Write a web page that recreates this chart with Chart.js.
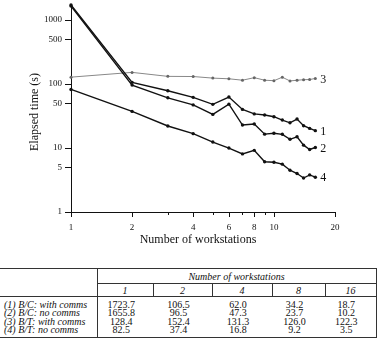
<!DOCTYPE html>
<html>
<head>
<meta charset="utf-8">
<script src="https://cdn.jsdelivr.net/npm/chart.js@4/dist/chart.umd.min.js"></script>
<style>
  html, body { margin: 0; padding: 0; background: #fff; }
  body { width: 380px; height: 345px; position: relative; overflow: hidden; font-family: "Liberation Serif", serif; }
  #wrap { position: absolute; left: 0; top: 0; width: 380px; height: 255px; }
  #tbl { position: absolute; left: 0; top: 268px; width: 376px; border-collapse: collapse; table-layout: fixed;
         font-size: 10px; color: #111; border-top: 1px solid #333; border-bottom: 1px solid #333; }
  #tbl td { padding: 0; text-align: center; white-space: nowrap; overflow: visible; }
  #tbl td.lab { text-align: left; padding-left: 4px; font-style: italic; border-right: 1px solid #333; }
  #tbl td.last { border-right: 1px solid #333; }
  #tbl tr.h1 td { height: 14px; }
  #tbl tr.h1 td.grp { font-style: italic; border-bottom: 1px solid #333; }
  #tbl tr.h2 td { height: 12px; font-style: italic; border-bottom: 1px solid #333; border-right: 1px solid #333; }
  #tbl tr.row td { height: 8.3px; line-height: 8.3px; }
  #tbl tr.row td.num { padding-right: 8px; }
  #tbl tr.first td { padding-top: 4px; }
  #tbl tr.end td { padding-bottom: 3px; }
</style>
</head>
<body>
<div id="wrap"><canvas id="chart"></canvas></div>
<table id="tbl"></table>
<script>
const workstations = [1, 2, 3, 4, 5, 6, 7, 8, 9, 10, 11, 12, 13, 14, 15, 16];

const bcComms   = [1723.7, 106.5, 78.6, 62.0, 48.2, 62.7, 40.2, 34.2, 32.8, 30.9, 27.4, 24.8, 28.4, 22.3, 20.3, 18.7];
const bcNoComms = [1655.8, 96.5, 61.0, 47.3, 33.6, 48.6, 22.9, 23.7, 16.5, 17.0, 16.4, 13.7, 15.0, 11.1, 9.5, 10.2];
const btComms   = [128.4, 152.4, 132.0, 131.3, 124.0, 121.0, 115.0, 126.0, 115.0, 113.0, 128.0, 112.0, 115.0, 117.0, 118.0, 122.3];
const btNoComms = [82.5, 37.4, 22.1, 16.8, 12.4, 10.0, 8.1, 9.2, 6.1, 6.0, 5.6, 4.5, 4.0, 3.4, 3.8, 3.5];

const seriesNames  = ['(1) B/C: with comms', '(2) B/C: no comms', '(3) B/T: with comms', '(4) B/T: no comms'];
const seriesTags   = ['1', '2', '3', '4'];
const seriesValues = [bcComms, bcNoComms, btComms, btNoComms];

const xTicks     = [1, 2, 4, 6, 8, 10, 20];
const xMinor     = [3, 5, 7, 9];
const yTicks     = [1, 5, 10, 50, 100, 500, 1000];
const tableCols  = [1, 2, 4, 8, 16];

const serif = '"Liberation Serif", "Times New Roman", serif';
const ink   = '#111';

// small tick marks under the x axis, axis titles and the 1..4 tags at line ends
const decor = {
  id: 'decor',
  afterDraw(chart) {
    const { ctx, chartArea, scales: { x } } = chart;
    const base = chartArea.bottom;
    ctx.save();
    ctx.strokeStyle = ink;
    ctx.lineWidth = 1;
    const tick = (v, len) => {
      const px = Math.round(x.getPixelForValue(v)) + 0.5;
      ctx.beginPath();
      ctx.moveTo(px, base);
      ctx.lineTo(px, base + len);
      ctx.stroke();
    };
    xTicks.forEach(v => tick(v, 5));
    xMinor.forEach(v => tick(v, 3));

    ctx.fillStyle = ink;
    ctx.font = '12px ' + serif;
    ctx.textAlign = 'center';
    ctx.textBaseline = 'middle';
    ctx.fillText('Number of workstations', 198, 240);

    ctx.save();
    ctx.translate(35, 112);
    ctx.rotate(-Math.PI / 2);
    ctx.fillText('Elapsed time (s)', 0, 0);
    ctx.restore();

    ctx.textAlign = 'left';
    chart.data.datasets.forEach((ds, i) => {
      const pts = chart.getDatasetMeta(i).data;
      const p = pts[pts.length - 1];
      ctx.fillText(ds.tag, p.x + 5, p.y + 1);
    });
    ctx.restore();
  }
};

const lineColors = ['#111', '#111', '#888', '#111'];

new Chart(document.getElementById('chart'), {
  type: 'line',
  data: {
    datasets: seriesValues.map((vals, i) => ({
      label: seriesNames[i],
      tag: seriesTags[i],
      data: workstations.map((n, j) => ({ x: n, y: vals[j] })),
      borderColor: lineColors[i],
      backgroundColor: i === 2 ? '#666' : '#111',
      borderWidth: i === 2 ? 1 : 1.4,
      pointRadius: i === 2 ? 1.5 : 1.7,
      pointBorderWidth: 0,
      tension: 0,
      clip: false
    }))
  },
  options: {
    responsive: true,
    maintainAspectRatio: false,
    animation: false,
    layout: { padding: { top: 5, right: 45, left: 0, bottom: 0 } },
    plugins: { legend: { display: false }, tooltip: { enabled: false } },
    scales: {
      x: {
        type: 'logarithmic',
        min: 1,
        max: 20,
        afterBuildTicks: s => { s.ticks = xTicks.map(v => ({ value: v })); },
        afterFit: s => { s.height = 43; s.paddingLeft = 0; s.paddingRight = 0; },
        grid: { display: false, drawTicks: false },
        border: { display: true, color: ink, width: 1 },
        ticks: {
          padding: 10,
          autoSkip: false,
          maxRotation: 0,
          color: ink,
          font: { family: serif, size: 9 },
          callback: v => String(v)
        }
      },
      y: {
        type: 'logarithmic',
        min: 1,
        max: 1724,
        afterBuildTicks: s => { s.ticks = yTicks.map(v => ({ value: v })); },
        afterFit: s => { s.width = 71; s.paddingTop = 0; s.paddingBottom = 0; },
        grid: { drawOnChartArea: false, drawTicks: true, tickLength: 6, color: ink, lineWidth: 1 },
        border: { display: true, color: ink, width: 1 },
        ticks: {
          padding: 3,
          autoSkip: false,
          color: ink,
          font: { family: serif, size: 9 },
          callback: v => String(v)
        }
      }
    }
  },
  plugins: [decor]
});

// table under the chart, built from the same series
const tbl = document.getElementById('tbl');
const colW = [97, 56, 59, 60, 53, 51];
let html = '<colgroup>' + colW.map(w => `<col style="width:${w}px">`).join('') + '</colgroup>';
html += `<tr class="h1"><td class="lab"></td><td class="grp last" colspan="${tableCols.length}">Number of workstations</td></tr>`;
html += '<tr class="h2"><td class="lab"></td>' + tableCols.map(c => `<td>${c}</td>`).join('') + '</tr>';
seriesValues.forEach((vals, i) => {
  const cls = 'row' + (i === 0 ? ' first' : '') + (i === seriesValues.length - 1 ? ' end' : '');
  html += `<tr class="${cls}"><td class="lab">${seriesNames[i]}</td>` +
    tableCols.map((c, k) => {
      const v = vals[workstations.indexOf(c)].toFixed(1);
      return `<td class="num${k === tableCols.length - 1 ? ' last' : ''}">${v}</td>`;
    }).join('') + '</tr>';
});
tbl.innerHTML = html;
</script>
</body>
</html>
